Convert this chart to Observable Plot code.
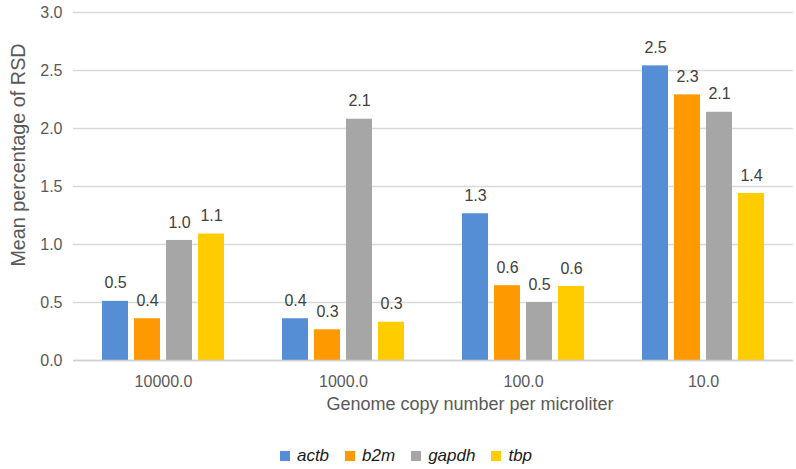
<!DOCTYPE html>
<html>
<head>
<meta charset="utf-8">
<script src="https://cdn.jsdelivr.net/npm/d3@7"></script>
<script src="https://cdn.jsdelivr.net/npm/@observablehq/plot@0.6"></script>
<style>
  html, body { margin: 0; padding: 0; background: #fff; }
  body { width: 796px; height: 469px; overflow: hidden; font-family: "Liberation Sans", Arial, sans-serif; }
  #chart { position: relative; width: 796px; height: 469px; }
  #chart svg { display: block; }
  .title { position: absolute; white-space: nowrap; color: #595959; font-family: "Liberation Sans", Arial, sans-serif; transform: translate(-50%, -50%); }
  #ytitle { left: 18px; top: 155px; font-size: 19.8px; transform: translate(-50%, -50%) rotate(-90deg); }
  #xtitle { left: 470px; top: 404px; font-size: 18px; }
  #legend { display: flex; justify-content: center; padding-left: 16px; padding-top: 26px; font-family: "Liberation Sans", Arial, sans-serif; font-size: 17px; font-style: italic; color: #1a1a1a; line-height: 20px; }
  .item { display: flex; align-items: center; margin-right: 16px; }
  .item:last-child { margin-right: 0; }
  .sw { width: 10px; height: 10px; margin-right: 7px; }
</style>
</head>
<body>
<div id="chart"></div>
<script>
const groups = ["10000.0", "1000.0", "100.0", "10.0"];
const genes = ["actb", "b2m", "gapdh", "tbp"];
const colors = ["#558ED5", "#FF9900", "#A6A6A6", "#FFCC00"];
const actb  = [0.51, 0.36, 1.265, 2.54];
const b2m   = [0.36, 0.265, 0.645, 2.29];
const gapdh = [1.035, 2.08, 0.50, 2.14];
const tbp   = [1.09, 0.33, 0.638, 1.44];
const yTicks = [0, 0.5, 1.0, 1.5, 2.0, 2.5, 3.0];
const yTitle = "Mean percentage of RSD";
const xTitle = "Genome copy number per microliter";

const series = {actb, b2m, gapdh, tbp};
const data = [];
groups.forEach((g, i) => genes.forEach(k => data.push({group: g, gene: k, value: series[k][i]})));

const color = d3.scaleOrdinal(genes, colors);

const chart = Plot.plot({
  width: 796,
  height: 420,
  marginLeft: 73,
  marginRight: 3,
  marginTop: 12,
  marginBottom: 60,
  style: {fontFamily: "Liberation Sans, Arial, sans-serif", fontSize: "16px", color: "#595959", background: "#fff"},
  fx: {domain: groups, padding: 0, label: null},
  x: {domain: genes, paddingInner: 0.2, paddingOuter: 0.85, axis: null},
  y: {domain: [0, 3], label: null},
  color: {domain: genes, range: colors},
  marks: [
    Plot.gridY(yTicks, {stroke: "#d9d9d9", strokeOpacity: 1, strokeWidth: 1.3}),
    Plot.axisY(yTicks, {tickSize: 0, tickPadding: 11, fontSize: 16, tickFormat: d => d.toFixed(1), fill: "#595959", label: null}),
    Plot.axisFx({anchor: "bottom", tickSize: 0, tickPadding: 15, fontSize: 16, fill: "#595959", label: null}),
    Plot.barY(data, {fx: "group", x: "gene", y: "value", fill: "gene"}),
    Plot.ruleY([0], {stroke: "#d0d0d0", strokeWidth: 1.5}),
    Plot.text(data, {fx: "group", x: "gene", y: "value", text: d => d.value.toFixed(1), dy: -18, fill: "#404040", fontSize: 16})
  ]
});
const root = document.getElementById("chart");
root.appendChild(chart);

const yt = document.createElement("div");
yt.className = "title"; yt.id = "ytitle"; yt.textContent = yTitle;
root.appendChild(yt);
const xt = document.createElement("div");
xt.className = "title"; xt.id = "xtitle"; xt.textContent = xTitle;
root.appendChild(xt);

const legend = document.createElement("div");
legend.id = "legend";
genes.forEach(g => {
  const item = document.createElement("div");
  item.className = "item";
  const sw = document.createElement("span");
  sw.className = "sw";
  sw.style.background = color(g);
  const lab = document.createElement("span");
  lab.textContent = g;
  item.appendChild(sw); item.appendChild(lab);
  legend.appendChild(item);
});
root.appendChild(legend);
</script>
</body>
</html>
